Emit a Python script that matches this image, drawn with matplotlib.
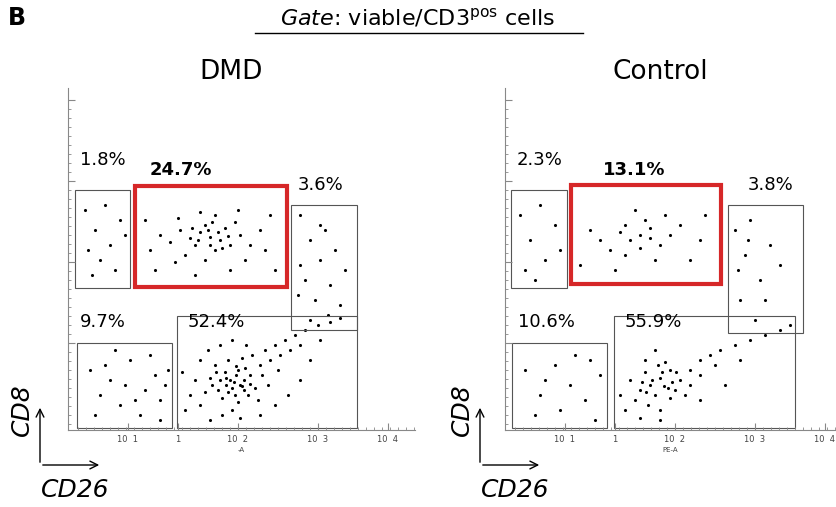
import matplotlib.pyplot as plt
from matplotlib.patches import Rectangle, FancyArrowPatch
import numpy as np

# dot coordinates (pixel space of the reference)
dmd_pts = [
    (230,380),(225,372),(240,385),(218,390),(245,368),(235,395),(210,378),(250,375),(228,360),(238,402),
    (205,392),(255,388),(222,398),(242,358),(215,365),(260,365),(232,410),(200,405),(248,395),(226,385),
    (236,375),(212,385),(244,380),(252,355),(265,350),(275,345),(285,340),(295,335),(305,330),(318,325),
    (330,322),(340,318),(270,360),(280,355),(262,375),(258,400),(268,385),(190,395),(185,410),(195,380),
    (182,372),(200,360),(208,350),(220,345),(232,340),(246,345),(278,370),(290,350),(300,345),(222,415),
    (240,418),(210,420),(260,415),(275,405),(288,395),(300,380),(310,360),(320,340),(232,388),(228,392),
    (236,366),(216,372),(244,390),(250,384),(226,378),(234,382),(220,380),(238,370),(242,386),
    (90,370),(100,395),(110,380),(120,405),(130,360),(145,390),(155,375),(160,400),(165,385),(140,415),
    (115,350),(95,415),(150,355),(168,370),(135,400),(125,385),(105,365),(160,420),
    (210,237),(200,232),(220,240),(195,245),(225,228),(205,225),(215,250),(190,238),(230,245),(180,230),
    (240,235),(185,255),(235,222),(170,242),(250,245),(160,235),(260,230),(205,260),(215,215),(200,212),
    (175,262),(245,260),(150,250),(265,250),(210,245),(218,232),(198,240),(208,230),(222,248),(228,236),
    (192,228),(212,222),(145,220),(270,215),(155,270),(275,270),(195,275),(230,270),(178,218),(238,210),
    (85,210),(95,230),(110,245),(120,220),(100,260),(88,250),(115,270),(125,235),(105,205),(92,275),
    (300,215),(310,240),(320,260),(305,280),(315,300),(325,230),(335,250),(300,265),(330,285),(345,270),
    (310,320),(320,225),(340,305),(298,295),(328,315),
]
ctrl_pts = [
    (660,378),(650,385),(670,370),(645,372),(675,390),(655,395),(640,390),(665,362),(680,380),(648,405),
    (690,370),(635,400),(660,410),(700,360),(710,355),(720,350),(735,345),(750,340),(765,335),(780,330),
    (790,325),(670,398),(685,395),(630,380),(625,410),(645,360),(655,350),(668,388),(652,380),(662,372),
    (672,382),(642,382),(690,385),(700,375),(715,365),(640,418),(660,420),(700,400),(725,385),(740,360),
    (620,395),(658,365),(676,372),(646,392),(664,386),
    (525,370),(540,395),(555,365),(570,385),(585,400),(600,375),(535,415),(590,360),(560,410),(575,355),
    (545,380),(595,420),
    (640,235),(630,240),(650,228),(620,232),(660,245),(610,250),(645,220),(670,235),(600,240),(680,225),
    (625,255),(655,260),(590,230),(700,240),(635,210),(615,270),(665,215),(690,260),(640,248),(650,238),
    (580,265),(705,215),(625,225),
    (520,215),(530,240),(545,260),(555,225),(525,270),(540,205),(560,250),(535,280),
    (735,230),(745,255),(760,280),(740,300),(750,220),(770,245),(755,320),(738,270),(765,300),(748,240),
    (780,265),
]

# gates: (x0, y0, x1, y1), label, label position
dmd_gates = [(75,190,130,288), (291,205,357,330), (77,343,172,428), (177,316,357,428)]
dmd_red = (135,186,287,287)
dmd_labels = [("1.8%",80,160,False),("24.7%",150,170,True),("3.6%",298,185,False),
              ("9.7%",80,322,False),("52.4%",188,322,False)]
ctrl_gates = [(511,190,567,288), (728,205,803,333), (512,343,607,428), (614,316,795,428)]
ctrl_red = (571,185,721,284)
ctrl_labels = [("2.3%",517,160,False),("13.1%",603,170,True),("3.8%",748,185,False),
               ("10.6%",518,322,False),("55.9%",625,322,False)]

W, H = 836, 507
fig = plt.figure(figsize=(W/100, H/100), dpi=100)

def panel(x0, x1, pts, gates, red, labels, title, xlab):
    ax = fig.add_axes([x0/W, 1-430/H, (x1-x0)/W, (430-88)/H])
    ax.set_xlim(x0, x1)
    ax.set_ylim(430, 88)
    for s in ["top", "right"]:
        ax.spines[s].set_visible(False)
    for s in ["left", "bottom"]:
        ax.spines[s].set_color("#888888")
    ax.set_yticks([343, 262, 181, 100])
    ax.set_yticks([y for y in range(100, 430, 9)], minor=True)
    xt = [x0+60, x0+110, x0+170, x0+250, x0+320]
    ax.set_xticks(xt)
    ax.set_xticks([x for x in range(x0+10, x1, 8)], minor=True)
    ax.set_xticklabels([])
    ax.set_yticklabels([])
    ax.tick_params(which="major", length=5, color="#888888", direction="in")
    ax.tick_params(which="minor", length=2.5, color="#888888", direction="in")
    for x, lab in zip(xt, ["10  1", "1", "10  2", "10  3", "10  4"]):
        ax.text(x, 440, lab, fontsize=6, ha="center", va="center", color="#444444", clip_on=False)
    ax.text((x0+x1)/2, 452, xlab, fontsize=5, ha="center", color="#444444", clip_on=False)
    p = np.array(pts)
    ax.scatter(p[:, 0], p[:, 1], s=5, c="black", linewidths=0)
    for g in gates:
        ax.add_patch(Rectangle((g[0], g[1]), g[2]-g[0], g[3]-g[1], fill=False, ec="#555555", lw=0.8))
    ax.add_patch(Rectangle((red[0], red[1]), red[2]-red[0], red[3]-red[1], fill=False, ec="#d62728", lw=3))
    for t, x, y, b in labels:
        ax.text(x, y, t, fontsize=13, fontweight="bold" if b else "normal", va="center")
    fig.text((x0+x1-20)/2/W, 1-72/H, title, fontsize=19, ha="center", va="center")

panel(68, 415, dmd_pts, dmd_gates, dmd_red, dmd_labels, "DMD", "-A")
panel(505, 836, ctrl_pts, ctrl_gates, ctrl_red, ctrl_labels, "Control", "PE-A")

fig.text(8/W, 1-18/H, "B", fontsize=17, fontweight="bold", va="center")
fig.text(418/W, 1-18/H, r"$\it{Gate}$: viable/CD3$^{\rm pos}$ cells", fontsize=16,
         ha="center", va="center")
fig.add_artist(plt.Line2D([255/W, 583/W], [1-33/H, 1-33/H], color="black", lw=1))

for ox in [0, 440]:
    fig.add_artist(FancyArrowPatch(((40+ox)/W, 1-465/H), ((40+ox)/W, 1-405/H),
                                   transform=fig.transFigure, arrowstyle="->", mutation_scale=14, lw=1))
    fig.add_artist(FancyArrowPatch(((40+ox)/W, 1-465/H), ((102+ox)/W, 1-465/H),
                                   transform=fig.transFigure, arrowstyle="->", mutation_scale=14, lw=1))
    fig.text((22+ox)/W, 1-410/H, "CD8", fontsize=18, style="italic", rotation=90, ha="center", va="center")
    fig.text((75+ox)/W, 1-490/H, "CD26", fontsize=18, style="italic", ha="center", va="center")

fig.savefig("out.png", dpi=100)
